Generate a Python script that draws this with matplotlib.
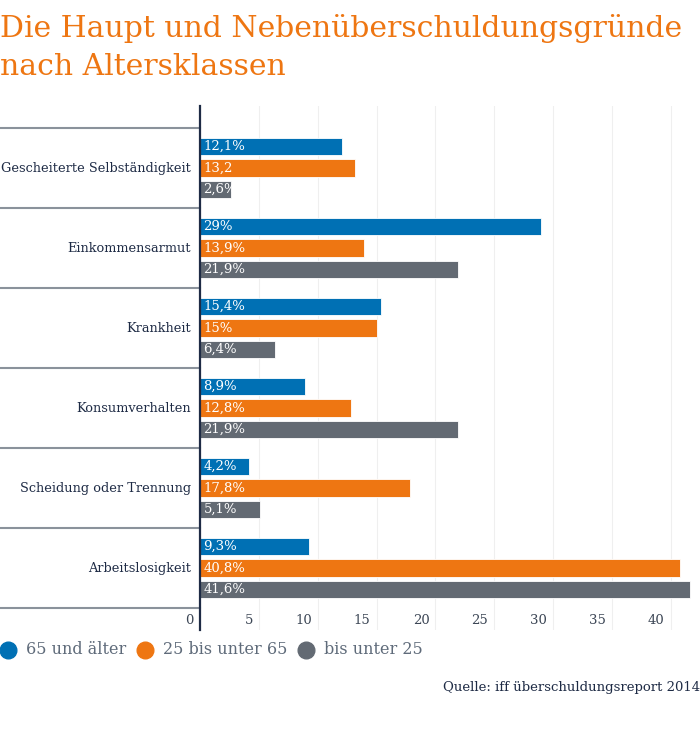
import numpy as np
import matplotlib
matplotlib.use('Agg')
import matplotlib.pyplot as plt
import matplotlib.transforms as mtransforms
from matplotlib.lines import Line2D

plt.rcParams['font.family'] = 'DejaVu Serif'

categories = ["Gescheiterte Selbständigkeit", "Einkommensarmut", "Krankheit",
              "Konsumverhalten", "Scheidung oder Trennung", "Arbeitslosigkeit"]
series_names = ["65 und älter", "25 bis unter 65", "bis unter 25"]
alt_65 = [12.1, 29, 15.4, 8.9, 4.2, 9.3]
alt_25_65 = [13.2, 13.9, 15, 12.8, 17.8, 40.8]
unter_25 = [2.6, 21.9, 6.4, 21.9, 5.1, 41.6]
labels_65 = ["12,1%", "29%", "15,4%", "8,9%", "4,2%", "9,3%"]
labels_25_65 = ["13,2", "13,9%", "15%", "12,8%", "17,8%", "40,8%"]
labels_u25 = ["2,6%", "21,9%", "6,4%", "21,9%", "5,1%", "41,6%"]
x_ticks = [0, 5, 10, 15, 20, 25, 30, 35, 40]

colors = ['#0070b4', '#ee7612', '#636a73']
navy = '#1e2b45'

fig = plt.figure(figsize=(7, 7.37), dpi=100)
ax = fig.add_axes([200 / 700, 107 / 737, 500 / 700, 524 / 737])

y = np.arange(len(categories))
offset = 0.269
height = 0.215
all_values = [alt_65, alt_25_65, unter_25]
all_labels = [labels_65, labels_25_65, labels_u25]
for i, (vals, labs) in enumerate(zip(all_values, all_labels)):
    pos = y + (i - 1) * offset
    ax.barh(pos, vals, height=height, color=colors[i], edgecolor='white',
            linewidth=0.6, zorder=3)
    for p, lab in zip(pos, labs):
        ax.text(0.3, p, lab, color='white', fontsize=9.5, va='center',
                ha='left', zorder=4)

ax.set_xlim(0, 42.48)
ax.set_ylim(5.775, -0.775)

ax.set_xticks(x_ticks)
ax.set_yticks([])
ax.tick_params(axis='x', length=0, labelbottom=False)
ax.grid(axis='x', color='#efefef', linewidth=0.8, zorder=0)
for s in ['top', 'right', 'bottom']:
    ax.spines[s].set_visible(False)
ax.spines['left'].set_color(navy)
ax.spines['left'].set_linewidth(1.6)
ax.spines['left'].set_zorder(5)

# x tick labels sitting left of the gridlines
shift = ax.transData + mtransforms.ScaledTranslation(-0.06, 0, fig.dpi_scale_trans)
for t in x_ticks:
    ax.text(t, 5.66, str(t), transform=shift, ha='right', va='center',
            fontsize=9.5, color='#3c4655')

# category labels and separators on the left
blend = mtransforms.blended_transform_factory(ax.transAxes, ax.transData)
for i, cat in enumerate(categories):
    ax.text(-0.018, i + 0.01, cat, transform=blend, ha='right', va='center',
            fontsize=9.3, color=navy)
for b in np.arange(len(categories) + 1) - 0.5:
    ax.plot([-0.4, 0], [b, b], transform=blend, color='#8a929b',
            linewidth=1.5, clip_on=False)

title_lines = ["Die Haupt und Nebenüberschuldungsgründe", "nach Altersklassen"]
for k, line in enumerate(title_lines):
    fig.text(0, 1 - (37 + 38 * k) / 737, line, color='#ee7612', fontsize=21.5,
             ha='left', va='baseline')

# legend
leg_x = [8, 145, 306]
for lx, c, name in zip(leg_x, colors, series_names):
    fig.add_artist(Line2D([lx / 700], [1 - 650 / 737], marker='o', markersize=12,
                          color=c, linestyle='none', transform=fig.transFigure))
    fig.text((lx + 18) / 700, 1 - 650 / 737, name, fontsize=11.5, color='#5f6b7a',
             ha='left', va='center')

fig.text(1, 1 - 688 / 737, "Quelle: iff überschuldungsreport 2014", fontsize=9.5,
         color=navy, ha='right', va='center')

fig.savefig('out.png', dpi=100)
